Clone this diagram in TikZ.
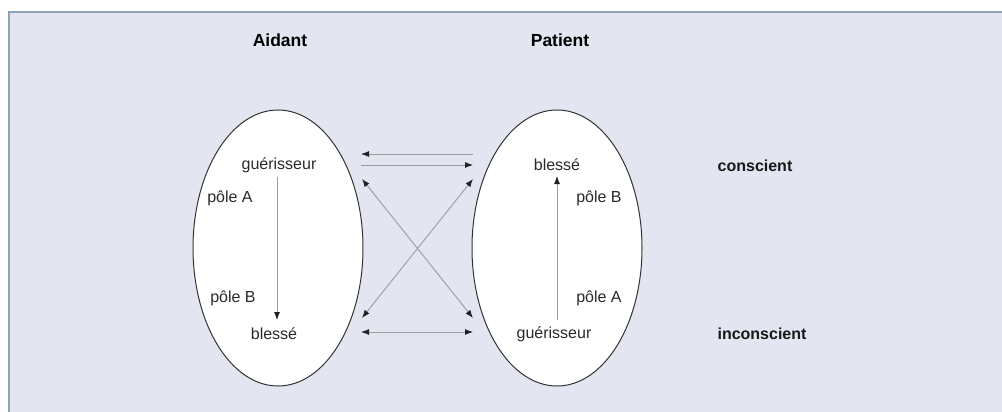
\documentclass[tikz,border=0pt]{standalone}
\usepackage{fontspec}
\setmainfont{Liberation Sans}
\usetikzlibrary{arrows.meta}
\definecolor{bgpanel}{HTML}{E3E5F1}
\definecolor{framecol}{HTML}{8FA3B8}
\definecolor{linegray}{HTML}{9C9C9C}
\definecolor{headcol}{HTML}{222222}
\definecolor{txt}{HTML}{2A2A2A}
\tikzset{
  lbl/.style={font=\fontsize{16}{19}\selectfont, text=txt, inner sep=0pt},
  hdr/.style={font=\fontsize{17.5}{20}\selectfont\bfseries, text=black, inner sep=0pt},
  side/.style={font=\fontsize{16}{19}\selectfont\bfseries, text=black!90, inner sep=0pt},
  oval/.style={draw=black!80, fill=white, line width=1pt},
  conn/.style={draw=linegray, line width=0.9pt},
  tip/.style={-{Latex[length=8pt,width=6pt,color=headcol]}},
  tips/.style={{Latex[length=8pt,width=6pt,color=headcol]}-{Latex[length=8pt,width=6pt,color=headcol]}}
}
\begin{document}
\begin{tikzpicture}[x=1pt,y=-1pt]
\useasboundingbox (0,0) rectangle (1002,412);
\fill[white] (0,0) rectangle (1002,412);
\begin{scope}
\clip (0,0) rectangle (1002,412);
\draw[framecol, fill=bgpanel, line width=1.4pt] (9,12) rectangle (1020,430);
\end{scope}

% ovals
\draw[oval] (278,248) ellipse [x radius=85, y radius=138];
\draw[oval] (557,248) ellipse [x radius=85, y radius=138];

% headers
\node[hdr] (aidant) at (280,40) {Aidant};
\node[hdr] (patient) at (560,40) {Patient};

% left oval labels
\node[lbl] (lg) at (279,165) {guérisseur};
\node[lbl] (lpa) at (230,198) {pôle A};
\node[lbl] (lpb) at (233,298) {pôle B};
\node[lbl] (lb) at (274,334) {blessé};

% right oval labels
\node[lbl] (rb) at (557,165) {blessé};
\node[lbl] (rpb) at (599,198) {pôle B};
\node[lbl] (rpa) at (599,298) {pôle A};
\node[lbl] (rg) at (554,334) {guérisseur};

% side labels
\node[side] (con) at (755,166) {conscient};
\node[side] (incon) at (762,334) {inconscient};

% vertical arrows
\coordinate (la1) at (277,177);
\coordinate (la2) at (277,320);
\draw[conn,tip] (la1) -- (la2);
\coordinate (ra1) at (557,320);
\coordinate (ra2) at (557,176);
\draw[conn,tip] (ra1) -- (ra2);

% middle connectors
\coordinate (tl1) at (361,154);
\coordinate (tr1) at (473,154);
\coordinate (tl2) at (361,165);
\coordinate (tr2) at (473,165);
\coordinate (dtl) at (362,179);
\coordinate (dbr) at (473,318);
\coordinate (dbl) at (362,318);
\coordinate (dtr) at (473,179);
\coordinate (bl) at (361,332);
\coordinate (br) at (473,332);
\draw[conn,tip] (tr1) -- (tl1);
\draw[conn,tip] (tl2) -- (tr2);
\draw[conn,tips] (dtl) -- (dbr);
\draw[conn,tips] (dbl) -- (dtr);
\draw[conn,tips] (bl) -- (br);
\end{tikzpicture}
\end{document}
